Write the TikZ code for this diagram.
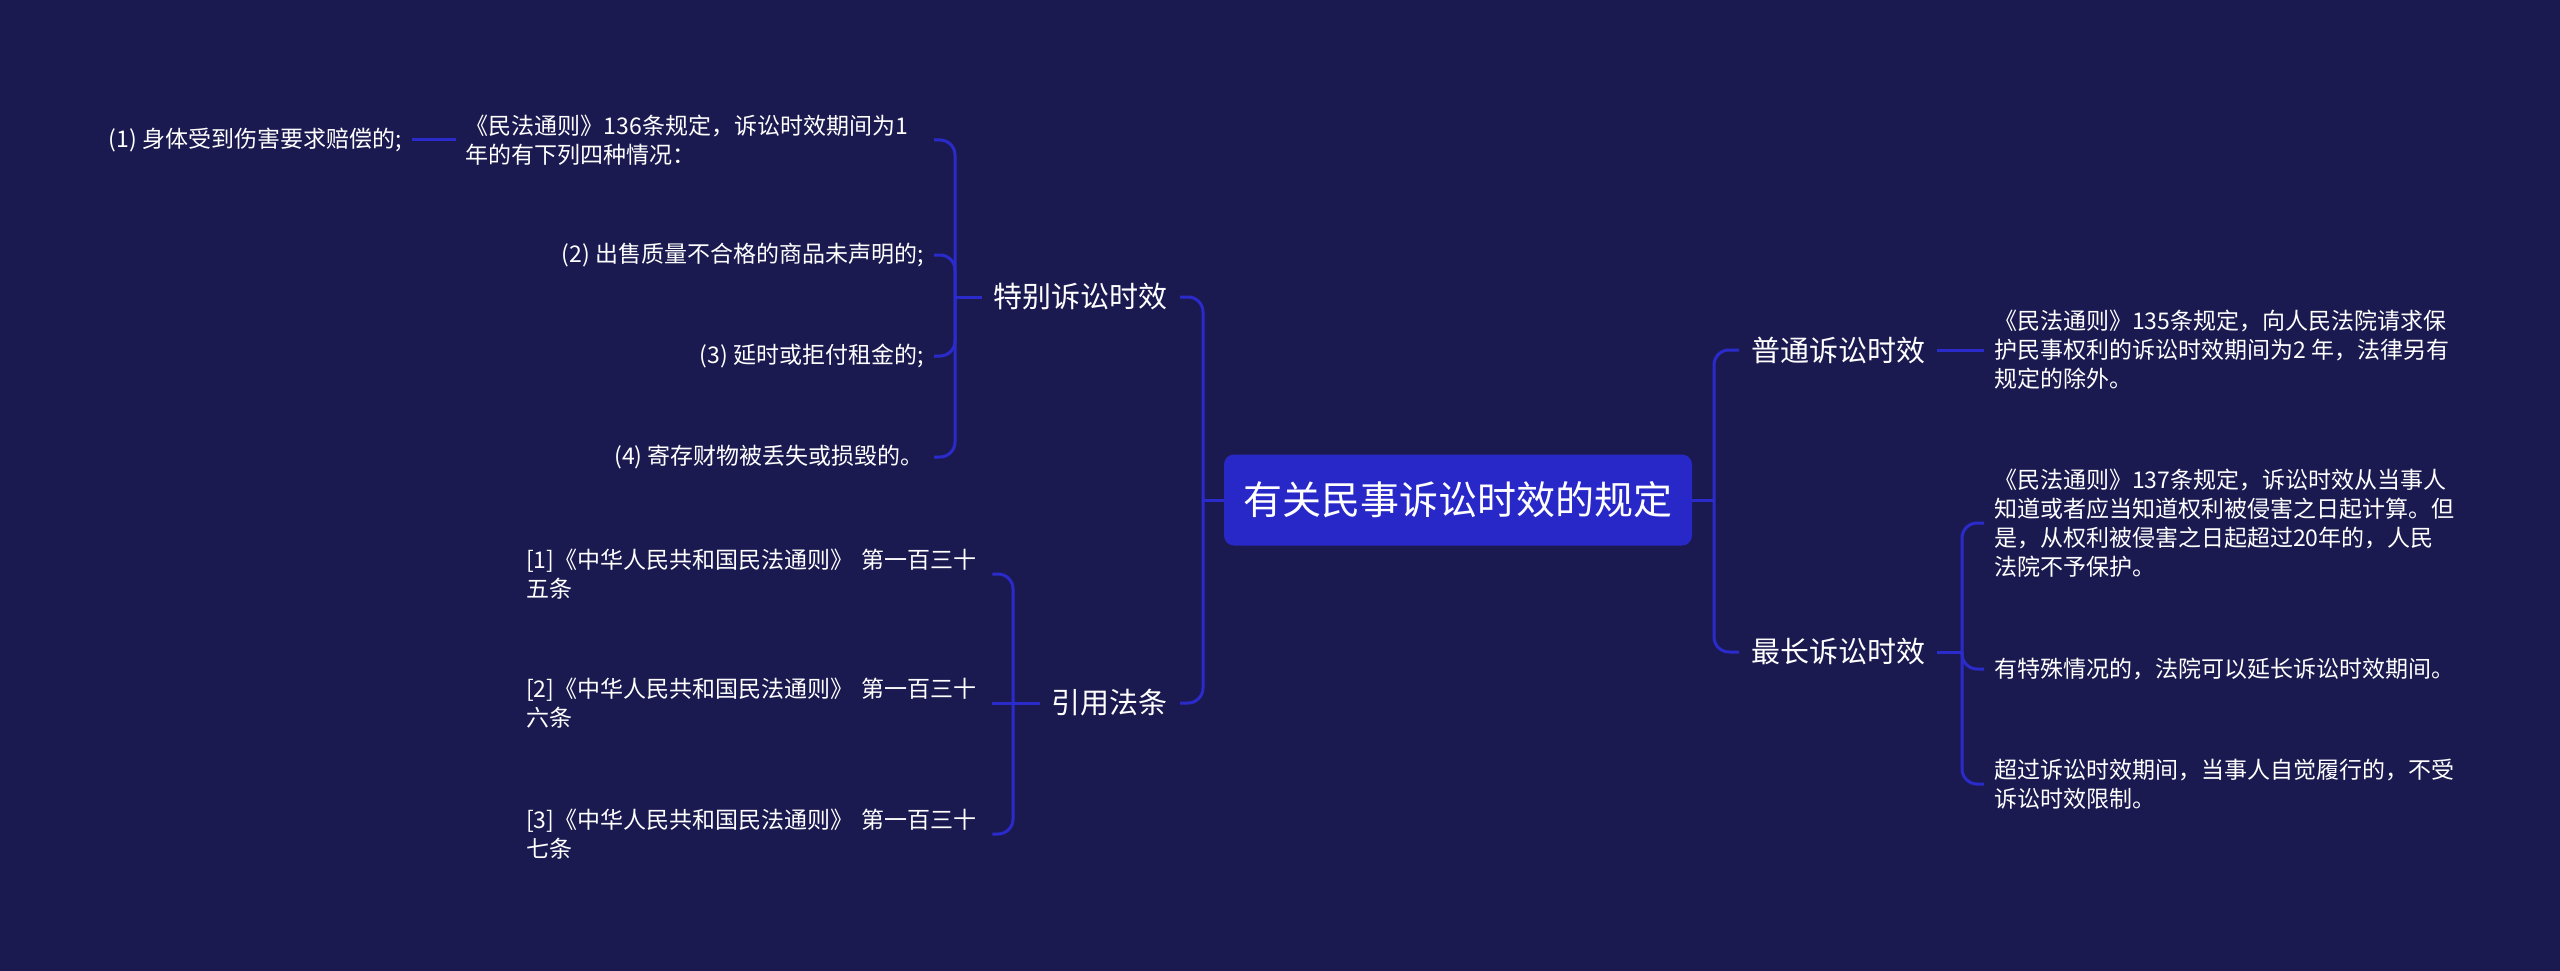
\documentclass[tikz,border=0pt]{standalone}
\usepackage{fontspec}
\setmainfont{Noto Sans CJK SC}
\definecolor{bg}{HTML}{1B1A50}
\definecolor{ln}{HTML}{2B2BCC}
\definecolor{boxc}{HTML}{2828C8}
\begin{document}
\begin{tikzpicture}[x=1pt,y=-1pt,
  lbl/.style={text=white, inner xsep=10pt, inner ysep=2pt, font=\fontsize{23}{29}\selectfont},
  lvl/.style={text=white, inner xsep=12pt, inner ysep=4pt, font=\fontsize{29}{35}\selectfont},
  conn/.style={draw=ln, line width=3pt, rounded corners=15pt}]
\fill[bg] (0,0) rectangle (2560,971);
\node[fill=boxc, rounded corners=10pt, minimum width=468pt, minimum height=91pt, text=white, font=\fontsize{39}{45}\selectfont] (root) at (1458,500) {有关民事诉讼时效的规定};
% level 1
\node[lvl, anchor=east] (te) at (1180,297) {特别诉讼时效};
\node[lvl, anchor=east] (yy) at (1180,703) {引用法条};
\node[lvl, anchor=west] (pt) at (1739,350) {普通诉讼时效};
\node[lvl, anchor=west] (zc) at (1739,652) {最长诉讼时效};
% left children of te
\node[lbl, anchor=east, text width=458pt, align=left] (c136) at (934,140) {《民法通则》136条规定，诉讼时效期间为1\\年的有下列四种情况：};
\node[lbl, anchor=east] (c1) at (412,140) {(1) 身体受到伤害要求赔偿的;};
\node[lbl, anchor=east] (c2) at (934,255) {(2) 出售质量不合格的商品未声明的;};
\node[lbl, anchor=east] (c3) at (934,356) {(3) 延时或拒付租金的;};
\node[lbl, anchor=east] (c4) at (934,457) {(4) 寄存财物被丢失或损毁的。};
% children of yy
\node[lbl, anchor=west, text width=456pt, align=left] (r1) at (516,574) {[1]《中华人民共和国民法通则》 第一百三十\\五条};
\node[lbl, anchor=west, text width=456pt, align=left] (r2) at (516,703) {[2]《中华人民共和国民法通则》 第一百三十\\六条};
\node[lbl, anchor=west, text width=456pt, align=left] (r3) at (516,834) {[3]《中华人民共和国民法通则》 第一百三十\\七条};
% right children
\node[lbl, anchor=west, align=left] (c135) at (1984,350) {《民法通则》135条规定，向人民法院请求保\\护民事权利的诉讼时效期间为2 年，法律另有\\规定的除外。};
\node[lbl, anchor=west, align=left] (c137) at (1984,523) {《民法通则》137条规定，诉讼时效从当事人\\知道或者应当知道权利被侵害之日起计算。但\\是，从权利被侵害之日起超过20年的，人民\\法院不予保护。};
\node[lbl, anchor=west] (cts) at (1984,669) {有特殊情况的，法院可以延长诉讼时效期间。};
\node[lbl, anchor=west, align=left] (ccg) at (1984,784) {超过诉讼时效期间，当事人自觉履行的，不受\\诉讼时效限制。};
% branch points
\coordinate (Lb) at (1203,500);
\coordinate (Rb) at (1714,500);
\coordinate (Tb) at (955,297);
\coordinate (Yb) at (1013,703);
\coordinate (Zb) at (1962,652);
% connectors
\draw[conn] (root.west) -- (Lb);
\draw[conn] (Lb) |- (te.east);
\draw[conn] (Lb) |- (yy.east);
\draw[conn] (root.east) -- (Rb);
\draw[conn] (Rb) |- (pt.west);
\draw[conn] (Rb) |- (zc.west);
\draw[conn] (te.west) -- (Tb);
\draw[conn] (Tb) |- (c136.east);
\draw[conn] (Tb) |- (c2.east);
\draw[conn] (Tb) |- (c3.east);
\draw[conn] (Tb) |- (c4.east);
\draw[conn] (c136.west) -- (c1.east);
\draw[conn] (yy.west) -- (Yb);
\draw[conn] (Yb) |- (r1.east);
\draw[conn] (Yb) -- (r2.east);
\draw[conn] (Yb) |- (r3.east);
\draw[conn] (pt.east) -- (c135.west);
\draw[conn] (zc.east) -- (Zb);
\draw[conn] (Zb) |- (c137.west);
\draw[conn] (Zb) |- (cts.west);
\draw[conn] (Zb) |- (ccg.west);
\end{tikzpicture}
\end{document}
